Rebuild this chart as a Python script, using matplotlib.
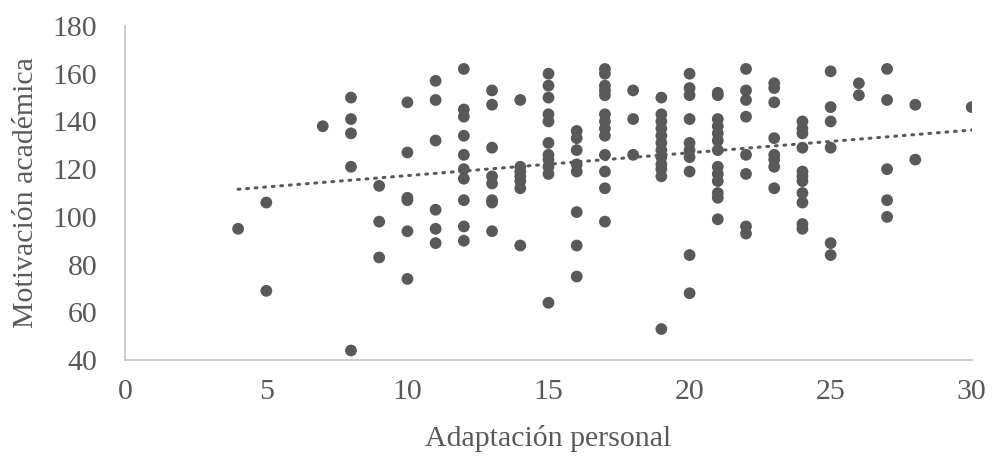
import matplotlib.pyplot as plt
import numpy as np

# Adaptación personal (x) -> Motivación académica (y)
adapt = [4, 5, 5, 7,
         8, 8, 8, 8, 8,
         9, 9, 9,
         10, 10, 10, 10, 10, 10,
         11, 11, 11, 11, 11, 11,
         12, 12, 12, 12, 12, 12, 12, 12, 12, 12,
         13, 13, 13, 13, 13, 13, 13, 13,
         14, 14, 14, 14, 14, 14, 14,
         15, 15, 15, 15, 15, 15, 15, 15, 15, 15, 15,
         16, 16, 16, 16, 16, 16, 16, 16,
         17, 17, 17, 17, 17, 17, 17, 17, 17, 17, 17, 17, 17,
         18, 18, 18,
         19, 19, 19, 19, 19, 19, 19, 19, 19, 19, 19, 19,
         20, 20, 20, 20, 20, 20, 20, 20, 20, 20,
         21, 21, 21, 21, 21, 21, 21, 21, 21, 21, 21, 21, 21,
         22, 22, 22, 22, 22, 22, 22, 22,
         23, 23, 23, 23, 23, 23, 23, 23,
         24, 24, 24, 24, 24, 24, 24, 24, 24, 24, 24,
         25, 25, 25, 25, 25, 25,
         26, 26,
         27, 27, 27, 27, 27,
         28, 28,
         30]
motiv = [95, 106, 69, 138,
         150, 141, 135, 121, 44,
         113, 98, 83,
         148, 127, 108, 107, 94, 74,
         157, 149, 132, 103, 95, 89,
         162, 145, 142, 134, 126, 120, 116, 107, 96, 90,
         153, 147, 129, 117, 114, 107, 106, 94,
         149, 121, 119, 117, 115, 112, 88,
         160, 155, 150, 143, 140, 131, 126, 124, 121, 118, 64,
         136, 133, 128, 122, 119, 102, 88, 75,
         162, 160, 155, 153, 151, 143, 140, 137, 134, 126, 119, 112, 98,
         153, 141, 126,
         150, 143, 140, 137, 134, 131, 128, 125, 122, 120, 117, 53,
         160, 154, 151, 141, 131, 128, 125, 119, 84, 68,
         152, 151, 141, 138, 135, 132, 128, 121, 118, 115, 110, 108, 99,
         162, 153, 149, 142, 126, 118, 96, 93,
         156, 154, 148, 133, 126, 124, 121, 112,
         140, 137, 135, 129, 119, 117, 115, 110, 106, 97, 95,
         161, 146, 140, 129, 89, 84,
         156, 151,
         162, 149, 120, 107, 100,
         147, 124,
         146]

x_ticks = [0, 5, 10, 15, 20, 25, 30]
y_ticks = [40, 60, 80, 100, 120, 140, 160, 180]

grey = '#595959'
plt.rcParams['font.family'] = ['Liberation Serif', 'DejaVu Serif']

fig = plt.figure(figsize=(9.94, 4.61), dpi=100)
ax = fig.add_axes([0.126, 0.219, 0.8516, 0.7246])

ax.scatter(adapt, motiv, s=72, color=grey, edgecolors='none', zorder=3)

# linear trend line
k, q = np.polyfit(adapt, motiv, 1)
xs = np.array([min(adapt), max(adapt)])
ax.plot(xs, k * xs + q, color=grey, linewidth=2.2,
        linestyle=(0, (0.6, 2.2)), dash_capstyle='round', zorder=2)

ax.set_xlim(0, 30)
ax.set_ylim(40, 180)
ax.set_xticks(x_ticks)
ax.set_yticks(y_ticks)

for side in ['top', 'right']:
    ax.spines[side].set_visible(False)
for side in ['left', 'bottom']:
    ax.spines[side].set_color('#c8c8c8')
    ax.spines[side].set_linewidth(1.3)

ax.tick_params(axis='both', length=0, labelsize=21.5, labelcolor=grey)
ax.tick_params(axis='x', pad=14)
ax.tick_params(axis='y', pad=20)

ax.set_xlabel('Adaptación personal', fontsize=21.5, color=grey, labelpad=14)
ax.set_ylabel('Motivación académica', fontsize=21.5, color=grey, labelpad=10)

fig.savefig('out.png', dpi=100)
